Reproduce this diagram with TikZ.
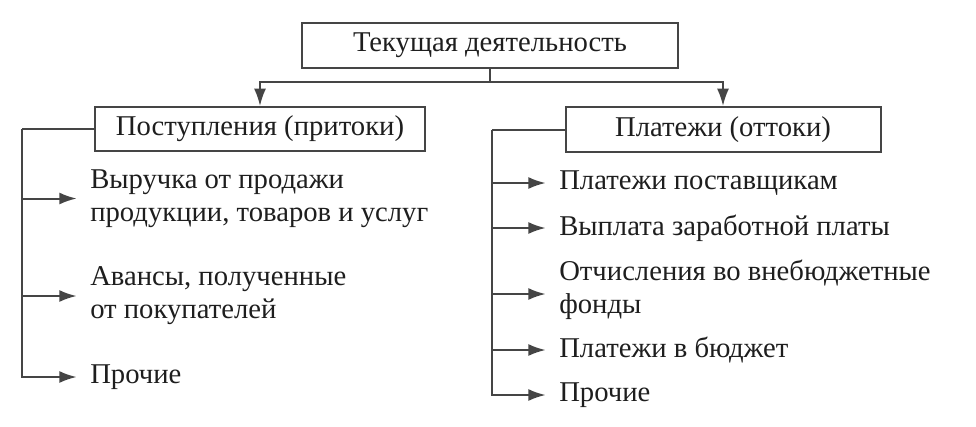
\documentclass[tikz,border=0pt]{standalone}
\usepackage{fontspec}
\setmainfont{Liberation Serif}
\usetikzlibrary{arrows.meta}
\definecolor{ln}{HTML}{454545}
\definecolor{tx}{HTML}{1E1E1E}
\tikzset{
  box/.style={draw=ln, line width=1.5pt, fill=white, inner sep=0pt, text=tx,
    font=\fontsize{21.5}{24.75}\selectfont},
  item/.style={anchor=west, inner sep=0pt, align=left, text=tx,
    font=\fontsize{21.5}{24.75}\selectfont},
  conn/.style={draw=ln, line width=1.5pt},
  arr/.style={conn, arrows={-Latex[length=13pt, width=9pt]}},
  tip/.style={arr, shorten >=10pt}
}
\begin{document}
\begin{tikzpicture}[x=0.75pt,y=-0.75pt]
\useasboundingbox[fill=white] (0,0) rectangle (976,426);
% boxes
\node[box, minimum width=282pt, minimum height=33.75pt] (top) at (490,45.5) {Текущая деятельность};
\node[box, minimum width=247.5pt, minimum height=33pt] (inflow) at (260,129) {Поступления (притоки)};
\node[box, minimum width=236.25pt, minimum height=33.75pt] (outflow) at (723,129.5) {Платежи (оттоки)};
% left items
\node[item] (l1) at (90,198.5) {Выручка от продажи\\продукции, товаров и услуг};
\node[item] (l2) at (90,296) {Авансы, полученные\\от покупателей};
\node[item] (l3) at (90,377) {Прочие};
% right items
\node[item] (r1) at (559,183) {Платежи поставщикам};
\node[item] (r2) at (559,228) {Выплата заработной платы};
\node[item] (r3) at (559,290) {Отчисления во внебюджетные\\фонды};
\node[item] (r4) at (559,350) {Платежи в бюджет};
\node[item] (r5) at (559,395) {Прочие};
% top connectors
\coordinate (bar) at (490,82);
\draw[conn] (top.south) -- (bar);
\draw[arr] (bar) -| (inflow.north);
\draw[arr] (bar) -| (outflow.north);
% left spine
\coordinate (ls) at (22,0);
\draw[conn] (inflow.west) -- (inflow.west -| ls);
\draw[tip] (inflow.west -| ls) |- (l3.west);
\draw[tip] (ls |- l1.west) -- (l1.west);
\draw[tip] (ls |- l2.west) -- (l2.west);
% right spine
\coordinate (rs) at (492,0);
\draw[conn] (outflow.west) -- (outflow.west -| rs);
\draw[tip] (outflow.west -| rs) |- (r5.west);
\draw[tip] (rs |- r1.west) -- (r1.west);
\draw[tip] (rs |- r2.west) -- (r2.west);
\draw[tip] ([yshift=-3pt]rs |- r3.west) -- ([yshift=-3pt]r3.west);
\draw[tip] (rs |- r4.west) -- (r4.west);
\end{tikzpicture}
\end{document}
